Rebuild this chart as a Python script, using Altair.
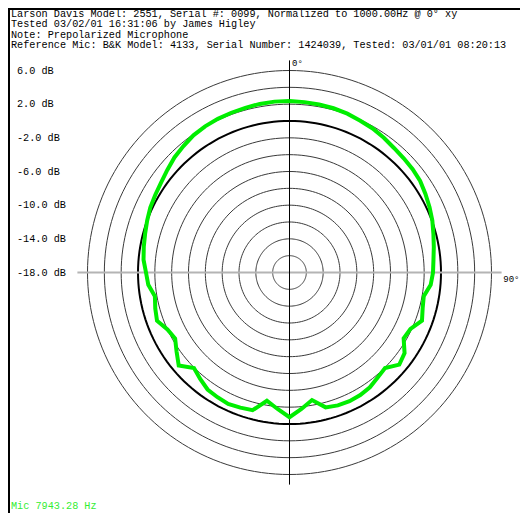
import altair as alt
import pandas as pd
import numpy as np

# ---------------- data ----------------
HEADER = [
    "Larson Davis Model: 2551, Serial #: 0099, Normalized to 1000.00Hz @ 0\u00b0 xy",
    "Tested 03/02/01 16:31:06 by James Higley",
    "Note: Prepolarized Microphone",
    "Reference Mic: B&K Model: 4133, Serial Number: 1424039, Tested: 03/01/01 08:20:13",
]
MIC_LABEL = "Mic 7943.28 Hz"
DB_LABELS = ["6.0 dB", "2.0 dB", "-2.0 dB", "-6.0 dB", "-10.0 dB", "-14.0 dB", "-18.0 dB"]
DB_LABEL_VALUES = [6, 2, -2, -6, -10, -14, -18]
RING_LEVELS = [-16, -14, -12, -10, -8, -6, -4, -2, 2, 4, 6]
REF_LEVEL = [0]
DB_CENTER = -18
DB_OUTER = 6

ANGLES = list(range(0, 360, 5))
RESPONSE_DB = [
    2.38, 2.32, 2.26, 2.20, 2.08, 1.90, 1.76, 1.54, 1.31, 1.19,   # 0-45
    1.10, 0.95, 0.65, 0.36, 0.06, -0.30, -0.59, -0.83, -0.95,     # 50-90
    -1.16, -1.80, -1.62, -1.25, -2.14, -2.34, -1.31, -0.97, -1.95, # 95-135
    -1.70, -1.35, -1.18, -1.13, -1.20, -1.41, -2.61, -1.72,        # 140-175
    -0.80,                                                         # 180
    -1.72, -2.53, -1.06, -0.92, -0.76, -0.89, -1.03, -1.49, -1.95, # 185-225
    -0.82, -1.62, -2.31, -2.00, -1.25, -1.49, -1.76, -1.16, -0.95, # 230-270
    -0.59, -0.42, -0.24, 0.00, 0.25, 0.42, 0.63, 0.95, 1.33,       # 275-315
    1.60, 1.90, 2.05, 2.14, 2.20, 2.26, 2.34, 2.38,                # 320-355
]
AXIS_EXTENT = 25.2
ANGLE_LABELS = ["0\u00b0", "90\u00b0"]

# ---------------- geometry ----------------
W, H = 512, 505
CX, CY = 281.5, 264.5
PX = 202 / (DB_OUTER - DB_CENTER)
FONT = "Liberation Mono"
FS = 10.2

xs = alt.Scale(domain=[-CX / PX, (W - CX) / PX], range=[0, W], nice=False, zero=False)
ys = alt.Scale(domain=[-(H - CY) / PX, CY / PX], range=[H, 0], nice=False, zero=False)
X = lambda f: alt.X(f, type="quantitative", scale=xs, axis=None)
Y = lambda f: alt.Y(f, type="quantitative", scale=ys, axis=None)

steps = list(range(0, 361, 2))
rings_df = pd.DataFrame([{"level": l, "a": a} for l in RING_LEVELS for a in steps])
ref_df = pd.DataFrame([{"level": l, "a": a} for l in REF_LEVEL for a in steps])

polar = dict(
    r=f"datum.level - ({DB_CENTER})",
    px="datum.r * sin(datum.a * PI / 180)",
    py="datum.r * cos(datum.a * PI / 180)",
)

rings = alt.Chart(rings_df).transform_calculate(**polar).mark_line(
    color="#3a3a3a", strokeWidth=1
).encode(x=X("px"), y=Y("py"), detail="level:N", order="a:Q")

ref = alt.Chart(ref_df).transform_calculate(**polar).mark_line(
    color="#000000", strokeWidth=2
).encode(x=X("px"), y=Y("py"), detail="level:N", order="a:Q")

hline = alt.Chart(pd.DataFrame({"x": [-AXIS_EXTENT], "x2": [AXIS_EXTENT], "y": [0]})).mark_rule(
    color="#b4b4b4", strokeWidth=2
).encode(x=X("x"), x2="x2:Q", y=Y("y"))

vline = alt.Chart(pd.DataFrame({"y": [-AXIS_EXTENT], "y2": [AXIS_EXTENT], "x": [0]})).mark_rule(
    color="#000000", strokeWidth=1
).encode(y=Y("y"), y2="y2:Q", x=X("x"))

resp_df = pd.DataFrame({"a": ANGLES + [360], "level": RESPONSE_DB + [RESPONSE_DB[0]]})
curve = alt.Chart(resp_df).transform_calculate(**polar).mark_line(
    color="#00ee00", strokeWidth=4, strokeJoin="miter"
).encode(x=X("px"), y=Y("py"), order="a:Q")

lab_df = pd.DataFrame({"t": DB_LABELS, "level": DB_LABEL_VALUES})
labels = alt.Chart(lab_df).transform_calculate(r=f"datum.level - ({DB_CENTER})").mark_text(
    align="left", baseline="middle", font=FONT, fontSize=FS, color="#000000"
).encode(x=alt.value(9), y=Y("r"), text="t:N")

ang_df = pd.DataFrame({"t": ANGLE_LABELS, "x": [0.3, 25.4], "y": [24.9, -0.8]})
ang_labels = alt.Chart(ang_df).mark_text(
    align="left", baseline="middle", font=FONT, fontSize=9, color="#000000"
).encode(x=X("x"), y=Y("y"), text="t:N")

one = pd.DataFrame({"k": [0]})
header = alt.Chart(one).mark_text(
    align="left", baseline="alphabetic", font=FONT, fontSize=FS, lineHeight=10.4,
    color="#000000", text=HEADER
).encode(x=alt.value(3), y=alt.value(9))

mic = alt.Chart(one).mark_text(
    align="left", baseline="alphabetic", font=FONT, fontSize=FS, color="#33ee33", text=MIC_LABEL
).encode(x=alt.value(3), y=alt.value(501))

frame_top = alt.Chart(one).mark_rule(color="#000000", strokeWidth=2).encode(
    x=alt.value(0), x2=alt.value(W), y=alt.value(1))
frame_left = alt.Chart(one).mark_rule(color="#000000", strokeWidth=2).encode(
    y=alt.value(0), y2=alt.value(H), x=alt.value(1))

chart = alt.layer(
    rings, ref, hline, vline, curve, labels, ang_labels, header, mic, frame_top, frame_left
).properties(
    width=W, height=H, autosize=alt.AutoSizeParams(type="none"), padding=0
).configure_view(stroke=None)

chart.save("out.html", embed_options={"renderer": "svg", "actions": False})
